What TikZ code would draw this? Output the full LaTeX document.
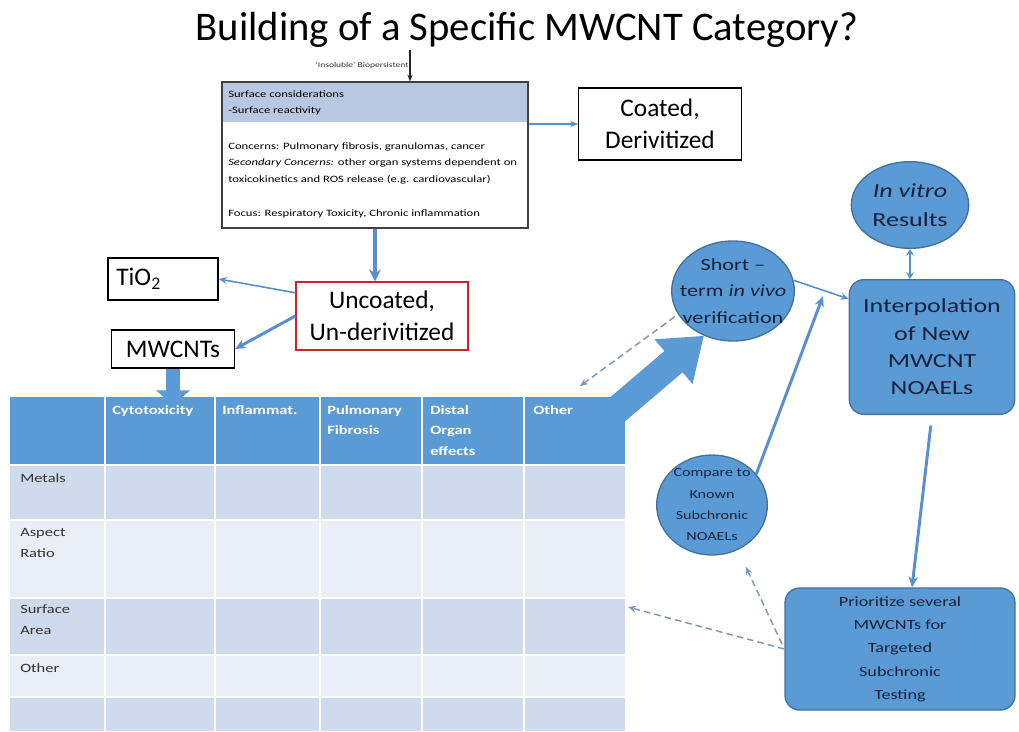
\documentclass[tikz,border=0pt]{standalone}
\usepackage{fontspec}
\setmainfont{Carlito}
\newfontfamily\widefont[FakeStretch=1.3,Ligatures=TeX]{Carlito}
\usetikzlibrary{arrows.meta,shapes.geometric,calc}

\definecolor{nodeblue}{HTML}{5B9BD5}
\definecolor{nodeedge}{HTML}{41719C}
\definecolor{linkblue}{HTML}{5B8FCC}
\definecolor{dashgray}{HTML}{8197B6}
\definecolor{bandblue}{HTML}{B8C8E2}
\definecolor{hdrblue}{HTML}{5B9BD5}
\definecolor{rowdark}{HTML}{CFDBEC}
\definecolor{rowlight}{HTML}{E9EEF7}
\definecolor{boxred}{HTML}{C8262C}
\definecolor{inkdark}{HTML}{16223A}

\begin{document}
\begin{tikzpicture}[x=0.75pt,y=-0.75pt,
  plainbox/.style={draw=black, line width=1pt, fill=white, align=center,
    inner sep=0pt, font=\fontsize{19}{24}\selectfont},
  smalltext/.style={inner sep=0pt, text=black, font=\widefont\fontsize{7.3}{9}\selectfont},
  bluefill/.style={fill=nodeblue, draw=nodeedge, line width=1pt, inner sep=0pt},
  oval/.style={bluefill, ellipse},
  roundbox/.style={bluefill, rounded corners=11pt, align=center, text=inkdark},
  ovaltext/.style={align=center, inner sep=0pt, text=inkdark},
  hdrtext/.style={anchor=north west, align=left, inner sep=0pt, text=white,
    font=\widefont\bfseries\fontsize{9.5}{15.5}\selectfont},
  rowtext/.style={anchor=north west, align=left, inner sep=0pt, text=black!80,
    font=\widefont\fontsize{9.5}{15.5}\selectfont},
  link/.style={draw=linkblue, line width=1.2pt, -{Stealth[length=6pt,width=5pt]}},
  midlink/.style={draw=linkblue, line width=2.2pt, -{Stealth[length=8pt,width=7pt]}},
  dashlink/.style={draw=dashgray, line width=1.1pt, dash pattern=on 5pt off 3pt,
    -{Stealth[length=6pt,width=5pt]}},
  bigarrow/.style={draw=nodeblue, line width=21pt, -{Triangle[length=30pt,width=42pt]}},
  stubarrow/.style={draw=nodeblue, line width=10pt, -{Triangle[length=11pt,width=25pt]}}
]
\useasboundingbox (0,0) rectangle (1019,731);

% ---- title ----
\node[font=\fontsize{30.5}{36}\selectfont] (title) at (527,30) {Building of a Specific MWCNT Category?};

% ---- concerns box ----
\fill[bandblue] (222,83) rectangle (528,122);
\node[draw=black!75, line width=1pt, minimum width=229.5pt, minimum height=109.5pt,
  inner sep=0pt] (concern) at (375,155) {};
\node[smalltext, anchor=base west] (c1) at (228,98) {Surface considerations};
\node[smalltext, anchor=base west] (c2) at (228,114) {-Surface reactivity};
\node[smalltext, anchor=base west] (c3) at (228,149) {Concerns: Pulmonary fibrosis, granulomas, cancer};
\node[smalltext, anchor=base west] (c4) at (228,165) {\textit{Secondary Concerns:} other organ systems dependent on};
\node[smalltext, anchor=base west] (c5) at (228,182) {toxicokinetics and ROS release (e.g. cardiovascular)};
\node[smalltext, anchor=base west] (c6) at (228,216) {Focus: Respiratory Toxicity, Chronic inflammation};

\coordinate (feed) at (410,50);
\draw[black!85, line width=1pt, -{Stealth[length=5pt,width=4pt]}] (feed) -- (feed |- concern.north);
\node[inner sep=0pt, text=black!80, font=\widefont\fontsize{5.5}{7}\selectfont, anchor=base]
  (insol) at (362,68) {`Insoluble' Biopersistent};

% ---- left-hand category boxes ----
\node[plainbox, minimum width=122pt, minimum height=54pt] (coated) at (660,124) {Coated,\\Derivitized};
\node[plainbox, draw=boxred, minimum width=129pt, minimum height=51pt] (uncoated) at (382,316) {Uncoated,\\Un-derivitized};
\node[plainbox, minimum width=82.5pt, minimum height=31.5pt, text width=70pt, align=left] (tio) at (163,279) {TiO\textsubscript{2}};
\node[plainbox, minimum width=92pt, minimum height=28.5pt] (mwcnt) at (173,349) {MWCNTs};

\draw[link] (concern.east |- coated.west) -- (coated.west);
\draw[draw=linkblue, line width=3pt, -{Stealth[length=9pt,width=9pt]}] (concern.south) -- (concern.south |- uncoated.north);
\draw[link] (uncoated.165) -- (tio.east);
\draw[midlink] (uncoated.west) -- (mwcnt.east);

% ---- block arrow into the short-term study (tail hidden by the table) ----
\node[oval, minimum width=92pt, minimum height=75pt] (short) at (733,291) {};
\node[ovaltext, font=\widefont\fontsize{12.8}{20}\selectfont] (shortT) at (short) {Short –\\term \textit{in vivo}\\verification};
\coordinate (tail) at (598,426);
\draw[bigarrow] (tail) -- (short.237);

% ---- table ----
\fill[hdrblue] (10,397) rectangle (625,465);
\fill[rowdark] (10,465) rectangle (625,520);
\fill[rowlight] (10,520) rectangle (625,598);
\fill[rowdark] (10,598) rectangle (625,655);
\fill[rowlight] (10,655) rectangle (625,697);
\fill[rowdark] (10,697) rectangle (625,731);
\foreach \x in {105,215,320,422,524} \draw[white, line width=2.2pt] (\x,397) -- (\x,731);
\foreach \y in {465,520,598,655,697} \draw[white, line width=2.2pt] (10,\y) -- (625,\y);

\node[hdrtext] (h1) at (112,405) {Cytotoxicity};
\node[hdrtext] (h2) at (222,405) {Inflammat.};
\node[hdrtext] (h3) at (327,405) {Pulmonary\\Fibrosis};
\node[hdrtext] (h4) at (430,405) {Distal\\Organ\\effects};
\node[hdrtext] (h5) at (533,405) {Other};

\node[rowtext] (r1) at (20,473) {Metals};
\node[rowtext] (r2) at (20,528) {Aspect\\Ratio};
\node[rowtext] (r3) at (20,605) {Surface\\Area};
\node[rowtext] (r4) at (20,663) {Other};

\draw[stubarrow] (mwcnt.south) -- (mwcnt.south |- h1.north);

% ---- right-hand flow ----
\node[oval, minimum width=88pt, minimum height=65pt] (invitro) at (910,205) {};
\node[ovaltext, font=\widefont\fontsize{15}{22}\selectfont] (invitroT) at (invitro) {\textit{In vitro}\\Results};

\node[roundbox, minimum width=124pt, minimum height=101pt,
  font=\widefont\fontsize{15}{20.5}\selectfont] (interp) at (932,347) {Interpolation\\of New\\MWCNT\\NOAELs};

\node[oval, minimum width=83pt, minimum height=75pt] (compare) at (712,505) {};
\node[ovaltext, font=\widefont\fontsize{9.3}{16}\selectfont] (compareT) at (compare) {Compare to\\Known\\Subchronic\\NOAELs};

\node[roundbox, minimum width=172.5pt, minimum height=91.5pt,
  font=\widefont\fontsize{10.5}{17.5}\selectfont] (prior) at (900,649)
  {Prioritize several\\MWCNTs for\\Targeted\\Subchronic\\Testing};

\draw[link] (short.10) -- (interp.150);
\draw[draw=linkblue, line width=2pt, {Stealth[length=5pt,width=6pt]}-{Stealth[length=5pt,width=6pt]}]
  (invitro.south) -- (invitro.south |- interp.north);
\coordinate (ptr) at (823,296);
\draw[midlink] (compare.35) -- (ptr);
\draw[midlink, shorten <=8pt] (interp.south) -- ($(prior.north)+(12,0)$);

\coordinate (dashA) at (580,386);
\coordinate (dashB) at (628,607);
\draw[dashlink, shorten <=3pt] (short.203) -- (dashA);
\draw[dashlink] (prior.west) -- (dashB);
\draw[dashlink, shorten <=4pt, shorten >=14pt] (prior.west) -- (compare.300);

\end{tikzpicture}
\end{document}
